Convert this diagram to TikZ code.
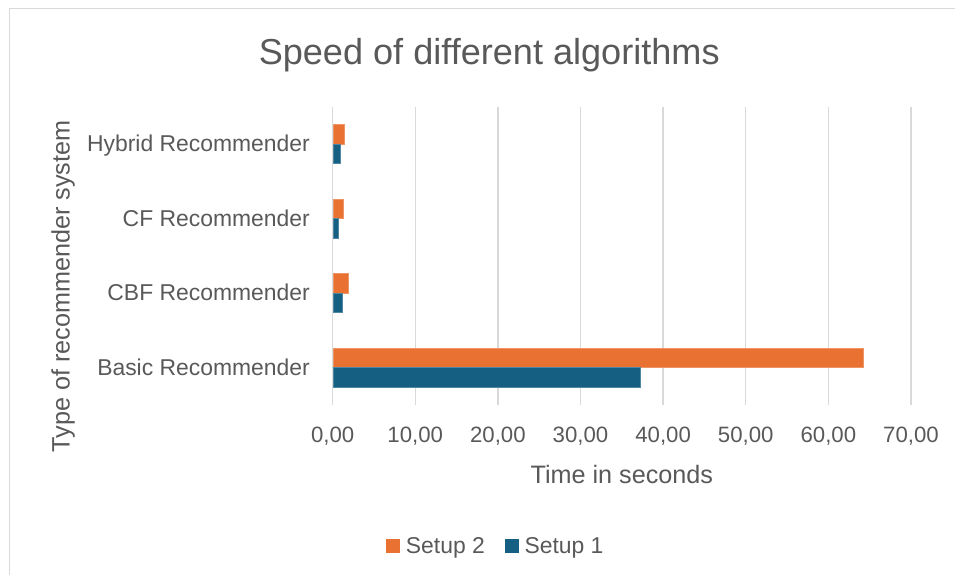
\documentclass[tikz,border=0pt]{standalone}
\usepackage{fontspec}
\setmainfont{Liberation Sans}
\definecolor{txt}{HTML}{595959}
\definecolor{org}{HTML}{E97132}
\definecolor{blu}{HTML}{156082}
\definecolor{grd}{HTML}{D9D9D9}
\begin{document}
\begin{tikzpicture}[x=1pt,y=-1pt,
  lbl/.style={text=txt, inner sep=0pt, font=\fontsize{22.9}{24}\selectfont},
  tick/.style={text=txt, inner sep=0pt, font=\fontsize{22.2}{24}\selectfont, anchor=base},
  axt/.style={text=txt, inner sep=0pt, font=\fontsize{25.2}{27}\selectfont, anchor=base},
  ttl/.style={text=txt, inner sep=0pt, font=\fontsize{36.1}{38}\selectfont, anchor=base},
  grid line/.style={grd, line width=1.4pt},
  bar2/.style={fill=org, draw=org!75!white, line width=0.8pt},
  bar1/.style={fill=blu, draw=blu!75!white, line width=0.8pt},
  legbox/.style={inner sep=0pt, minimum width=14pt, minimum height=14pt, anchor=north west}]
\useasboundingbox (0,0) rectangle (955,575);
% chart frame (top and left edges visible)
\draw[grd, line width=1.5pt] (9.5,575) -- (9.5,8.5) -- (955,8.5);
% title
\node[ttl] (title) at (489.2,64.3) {Speed of different algorithms};
% gridlines and tick labels
\foreach \i/\t in {0/0,1/10,2/20,3/30,4/40,5/50,6/60,7/70}{
  \draw[grid line] ({332.6+82.63*\i},107) -- ({332.6+82.63*\i},405);
  \node[tick] (tick\i) at ({332.6+82.63*\i},442.7) {\t,00};
}
% bars: center / setup2 / setup1
\foreach \c/\a/\b in {144.25/1.42/0.93, 218.75/1.26/0.74, 293.25/1.95/1.22, 367.75/64.2/37.3}{
  \path[bar2] (333.3,{\c-19.5}) rectangle ({332.6+8.263*\a},\c);
  \path[bar1] (333.3,\c) rectangle ({332.6+8.263*\b},{\c+19.5});
}
% category labels
\node[lbl, anchor=base east] (hyb) at (310,151.85) {Hybrid Recommender};
\node[lbl, anchor=base east] (cf) at (310,226.35) {CF Recommender};
\node[lbl, anchor=base east] (cbf) at (310,300.85) {CBF Recommender};
\node[lbl, anchor=base east] (basic) at (310,375.35) {Basic Recommender};
% axis titles
\node[axt] (xtitle) at (621.8,483.3) {Time in seconds};
\node[axt, rotate=90] (ytitle) at (69.5,286.5) {Type of recommender system};
% legend
\node[legbox, fill=org] (lg2) at (386,539) {};
\node[lbl, anchor=base west] (lt2) at (405.7,553) {Setup 2};
\node[legbox, fill=blu] (lg1) at (505,539) {};
\node[lbl, anchor=base west] (lt1) at (524.3,553) {Setup 1};
\end{tikzpicture}
\end{document}
